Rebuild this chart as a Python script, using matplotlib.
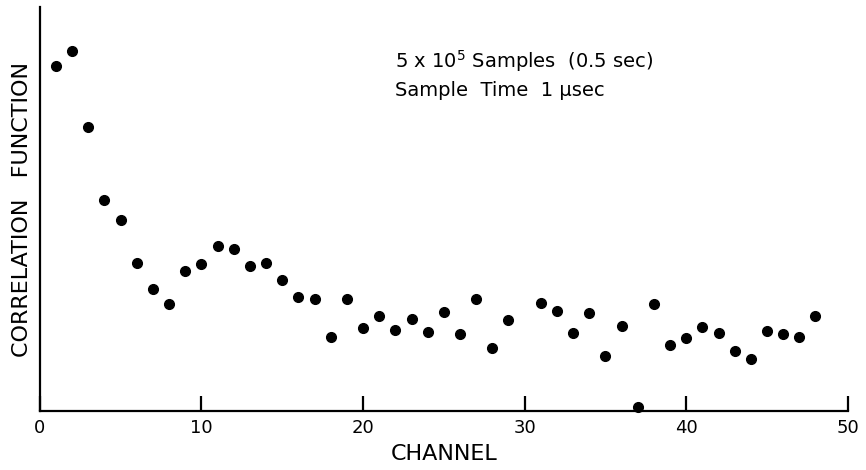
import matplotlib
matplotlib.use("Agg")
import matplotlib.pyplot as plt

# values (arbitrary units, channel 30 has no point)
channels = [1, 2, 3, 4, 5, 6, 7, 8, 9, 10, 11, 12, 13, 14, 15, 16, 17, 18, 19, 20,
            21, 22, 23, 24, 25, 26, 27, 28, 29, 31, 32, 33, 34, 35, 36, 37, 38, 39, 40,
            41, 42, 43, 44, 45, 46, 47, 48]
corr = [345, 360, 284, 211, 191, 148, 122, 107, 140, 147, 165, 162, 145, 148, 131, 114,
        112, 74, 112, 83, 95, 81, 92, 79, 99, 77, 112, 63, 91, 108, 100, 78, 98, 55,
        85, 4, 107, 66, 73, 84, 78, 60, 52, 80, 77, 74, 95]
xticks = [0, 10, 20, 30, 40, 50]

fig = plt.figure(figsize=(8.66, 4.70), dpi=100)
ax = fig.add_axes([0.046, 0.1255, 0.933, 0.8595])

ax.plot(channels, corr, 'o', color='black', markersize=7, clip_on=False)

ax.set_xlim(0, 50)
ax.set_ylim(0, 404)
ax.spines['top'].set_visible(False)
ax.spines['right'].set_visible(False)
ax.spines['left'].set_linewidth(1.6)
ax.spines['bottom'].set_linewidth(1.6)
ax.set_xticks(xticks)
ax.set_yticks([])
ax.tick_params(axis='x', direction='in', length=11, width=1.6, pad=6, labelsize=13)

ax.set_xlabel('CHANNEL', fontsize=16, labelpad=5)
ax.set_ylabel('CORRELATION   FUNCTION', fontsize=16, labelpad=6)

ax.text(0.44, 0.898, '5 x 10$^5$ Samples  (0.5 sec)\nSample  Time  1 \u00b5sec',
        transform=ax.transAxes, fontsize=14, va='top', ha='left', linespacing=1.45)

fig.savefig('out.png', dpi=100)
